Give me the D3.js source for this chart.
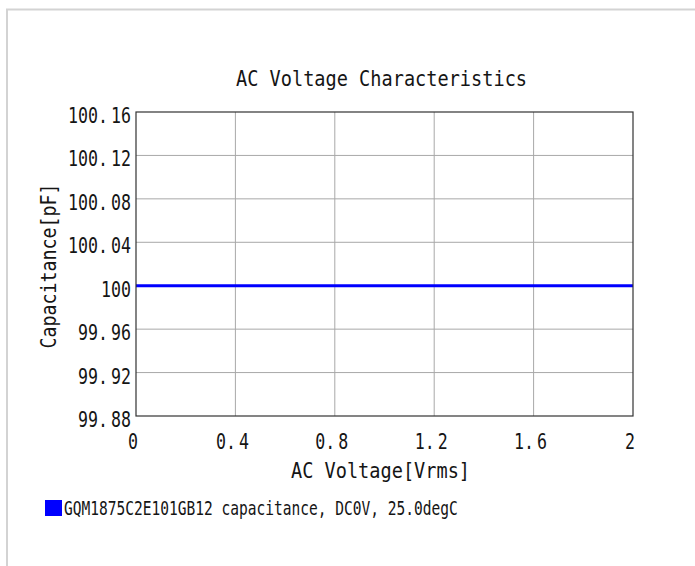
<!DOCTYPE html>
<html>
<head>
<meta charset="utf-8">
<script src="https://cdn.jsdelivr.net/npm/d3@7"></script>
<style>
  html, body { margin: 0; padding: 0; background: #fff; }
  svg { display: block; }
  text { font-family: "DejaVu Sans Mono", "Liberation Mono", monospace; fill: #151515; }
</style>
</head>
<body>
<div id="chart"></div>
<script>
// data
const voltage = [0, 0.2, 0.4, 0.6, 0.8, 1.0, 1.2, 1.4, 1.6, 1.8, 2.0]
const capacitance = [100, 100, 100, 100, 100, 100, 100, 100, 100, 100, 100]
const xTicks = [0, 0.4, 0.8, 1.2, 1.6, 2]
const yTicks = [99.88, 99.92, 99.96, 100, 100.04, 100.08, 100.12, 100.16]
const seriesName = "GQM1875C2E101GB12 capacitance, DC0V, 25.0degC"

const width = 695
const height = 566
const margin = {top: 112, right: 62, bottom: 150, left: 136}
const plotW = width - margin.left - margin.right
const plotH = height - margin.top - margin.bottom

const svg = d3.select("#chart").append("svg")
    .attr("width", width)
    .attr("height", height)

// frame around the page
svg.append("path")
    .attr("d", "M7,566 V9.5 H695")
    .attr("fill", "none")
    .attr("stroke", "#d3d3d3")
    .attr("stroke-width", 2)

// narrow tall glyphs: squeeze mono font horizontally to cw px per char
// gap = extra px after a decimal point (tick labels only)
function label(parent, px, py, txt, size, cw, anchor, rot, gap) {
    const s = cw / (0.602 * size)
    const t = parent.append("text")
        .attr("transform", "translate(" + px + "," + py + ")" + (rot ? " rotate(" + rot + ")" : "") + " scale(" + s + ",1)")
        .attr("text-anchor", anchor || "start")
        .attr("font-size", size)
    const parts = String(txt).split(".")
    if (!gap || parts.length < 2) {
        t.text(txt)
        return t
    }
    t.append("tspan").text(parts[0] + ".")
    t.append("tspan").attr("dx", gap / s).text(parts[1])
    return t
}

const g = svg.append("g")
    .attr("transform", "translate(" + margin.left + "," + margin.top + ")")

const x = d3.scaleLinear().domain([0, 2]).range([0, plotW])
const y = d3.scaleLinear().domain([99.88, 100.16]).range([plotH, 0])

// grid
g.append("g")
    .selectAll("line")
    .data(xTicks.slice(1, -1))
    .enter()
    .append("line")
    .attr("x1", d => x(d)).attr("x2", d => x(d))
    .attr("y1", 0).attr("y2", plotH)
    .attr("stroke", "#a8a8a8")
g.append("g")
    .selectAll("line")
    .data(yTicks.slice(1, -1))
    .enter()
    .append("line")
    .attr("x1", 0).attr("x2", plotW)
    .attr("y1", d => y(d)).attr("y2", d => y(d))
    .attr("stroke", "#a8a8a8")

// series
const line = d3.line()
    .x((d, i) => x(voltage[i]))
    .y(d => y(d))
g.append("path")
    .datum(capacitance)
    .attr("d", line)
    .attr("fill", "none")
    .attr("stroke", "#0000ff")
    .attr("stroke-width", 3)

// plot border
g.append("rect")
    .attr("width", plotW).attr("height", plotH)
    .attr("fill", "none")
    .attr("stroke", "#333")
    .attr("stroke-width", 1.2)

// tick labels
const fmt = d => d3.format("")(+d.toFixed(2))
const yLab = g.append("g")
yTicks.forEach(d => label(yLab, -5, y(d) + 11, fmt(d), 22, 10, "end", 0, 3))
const xLab = g.append("g")
xTicks.forEach(d => label(xLab, x(d) - 3, plotH + 33, fmt(d), 22, 10, "middle", 0, 3))

// titles
label(svg, margin.left + plotW / 2 - 3, 86, "AC Voltage Characteristics", 20.5, 11.2, "middle")
label(svg, margin.left + plotW / 2 - 4, 478, "AC Voltage[Vrms]", 20.5, 11.2, "middle")
label(svg, 56, margin.top + plotH / 2 + 2, "Capacitance[pF]", 20.5, 11, "middle", -90)

// legend
svg.append("rect")
    .attr("x", 45).attr("y", 500)
    .attr("width", 17).attr("height", 16)
    .attr("fill", "#0000ff")
label(svg, 64, 515, seriesName, 19, 8.76)
</script>
</body>
</html>
